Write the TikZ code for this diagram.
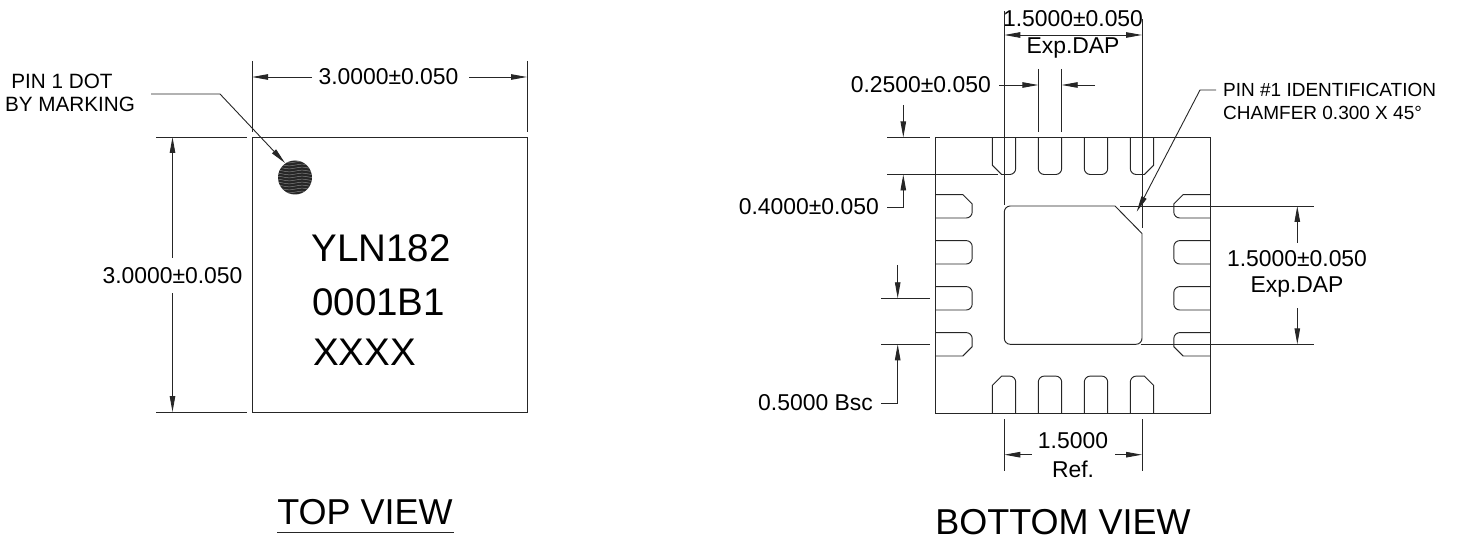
\documentclass[tikz,border=0pt]{standalone}
\usepackage{fontspec}
\setmainfont{Liberation Sans}
\usetikzlibrary{arrows.meta}
\tikzset{
  outline/.style={line width=0.95pt,black!85},
  thinline/.style={line width=0.9pt,black!85},
  dimtip/.style={-{Triangle[length=16pt,width=5.5pt]}},
  dimtext/.style={font=\fontsize{22.9}{26}\selectfont,inner sep=0pt},
  notetext/.style={font=\fontsize{19}{22}\selectfont,inner sep=0pt,anchor=west},
  marktext/.style={font=\fontsize{38.5}{42}\selectfont,inner sep=0pt,anchor=base west},
  viewtext/.style={font=\fontsize{36}{40}\selectfont,inner sep=0pt,anchor=base},
}
\begin{document}
\begin{tikzpicture}[x=1pt,y=-1pt]
\useasboundingbox (0,0) rectangle (1457,540);

\draw[outline] (252,137) rectangle (527,412);
\begin{scope}
\clip (295,177.5) circle (17);
\fill[black!85] (277,160) rectangle (313,196);
\foreach \yy in {162,165,...,195}
  \draw[black!50,line width=0.5pt] plot[domain=277:313,samples=25,smooth] (\x,{\yy+0.8*sin(14*\x)});
\end{scope}

\draw[thinline] (252,61) -- (252,132);
\draw[thinline] (527,61) -- (527,132);
\node[dimtext] (topwidth) at (388.5,77) {3.0000±0.050};
\draw[thinline,dimtip] (312,77) -- (252,77);
\draw[thinline,dimtip] (469,77) -- (527,77);

\draw[thinline] (156,137) -- (247,137);
\draw[thinline] (156,412) -- (247,412);
\node[dimtext] (topheight) at (172.5,276) {3.0000±0.050};
\draw[thinline,dimtip] (172.5,258) -- (172.5,137);
\draw[thinline,dimtip] (172.5,293) -- (172.5,412);

\node[font=\fontsize{20.7}{24}\selectfont,inner sep=0pt] (dotnotea) at (62,81) {PIN 1 DOT};
\node[font=\fontsize{20.7}{24}\selectfont,inner sep=0pt] (dotnoteb) at (70,104) {BY MARKING};
\draw[thinline,dimtip] (151,94) -- (220,94) -- (285,163);

\node[marktext] (marka) at (311.5,261.7) {YLN182};
\node[marktext] (markb) at (312,315) {0001B1};
\node[marktext] (markc) at (313,365.5) {XXXX};

\node[viewtext] (topview) at (365,524.5) {TOP VIEW};
\draw[outline] (277,532.7) -- (454,532.7);

\draw[outline] (935.3,137.4) rectangle (1210.7,413.2);
\foreach \rot in {0,90,180,270}{
  \begin{scope}[rotate around={\rot:(1073,275.3)}]
    \draw[outline] (992.3,137.4) -- (992.3,165.2) -- (1001.6,174.5) [rounded corners=6pt] -- (1015.7,174.5) [sharp corners] -- (1015.7,137.4);
    \draw[outline] (1153.7,137.4) -- (1153.7,165.2) -- (1144.4,174.5) [rounded corners=6pt] -- (1130.3,174.5) [sharp corners] -- (1130.3,137.4);
    \foreach \xa in {1050,1096}
      \draw[outline,rounded corners=6pt] (\xa-11.7,137.4) -- (\xa-11.7,174.5) -- (\xa+11.7,174.5) -- (\xa+11.7,137.4);
  \end{scope}
}
\draw[outline] (1115,206) -- (1142,233.5) [rounded corners=6pt] -- (1142,344.3) -- (1004.3,344.3) -- (1004.3,206) [sharp corners] -- (1115,206);

\node[dimtext] (dapwidtha) at (1073,19) {1.5000±0.050};
\node[dimtext] (dapwidthb) at (1073,48) {Exp.DAP};
\draw[thinline] (1004.3,11) -- (1004.3,205);
\draw[thinline] (1142,19) -- (1142,228);
\draw[thinline,dimtip] (1073,35) -- (1004.3,35);
\draw[thinline,dimtip] (1073,35) -- (1142,35);

\node[dimtext,anchor=east] (padwidth) at (991,85) {0.2500±0.050};
\draw[thinline] (1038.3,69) -- (1038.3,132);
\draw[thinline] (1061.7,69) -- (1061.7,132);
\draw[thinline,dimtip] (999,85) -- (1038.3,85);
\draw[thinline,dimtip] (1095,85) -- (1061.7,85);

\node[dimtext,anchor=east] (padlen) at (879,207) {0.4000±0.050};
\draw[thinline] (887,137.4) -- (930,137.4);
\draw[thinline] (887,174.5) -- (998,174.5);
\draw[thinline,dimtip] (903.3,105) -- (903.3,137.4);
\draw[thinline,dimtip] (887,207) -- (903.3,207) -- (903.3,174.5);

\node[dimtext,anchor=east] (pitch) at (873,403) {0.5000 Bsc};
\draw[thinline] (881,298.3) -- (930,298.3);
\draw[thinline] (881,344.3) -- (930,344.3);
\draw[thinline,dimtip] (897.7,265) -- (897.7,298.3);
\draw[thinline,dimtip] (881,403) -- (897.7,403) -- (897.7,344.3);

\node[dimtext] (refa) at (1073,441) {1.5000};
\node[dimtext] (refb) at (1073,469) {Ref.};
\draw[thinline] (1004.3,419) -- (1004.3,471);
\draw[thinline] (1142,419) -- (1142,471);
\draw[thinline,dimtip] (1031.7,454.7) -- (1004.3,454.7);
\draw[thinline,dimtip] (1115,454.7) -- (1142,454.7);

\draw[thinline] (1120,206) -- (1314,206);
\draw[thinline] (1140.7,344.3) -- (1314,344.3);
\node[dimtext] (dapheighta) at (1297,259) {1.5000±0.050};
\node[dimtext] (dapheightb) at (1297,287) {Exp.DAP};
\draw[thinline,dimtip] (1297.3,242.7) -- (1297.3,206);
\draw[thinline,dimtip] (1297.3,308) -- (1297.3,344.3);

\node[notetext] (pinnotea) at (1223,90) {PIN \#1 IDENTIFICATION};
\node[notetext] (pinnoteb) at (1223,113) {CHAMFER 0.300 X 45°};
\draw[thinline,dimtip] (1216,90) -- (1200,90) -- (1136.7,211.7);

\node[viewtext] (bottomview) at (1063,534.3) {BOTTOM VIEW};
\end{tikzpicture}
\end{document}
